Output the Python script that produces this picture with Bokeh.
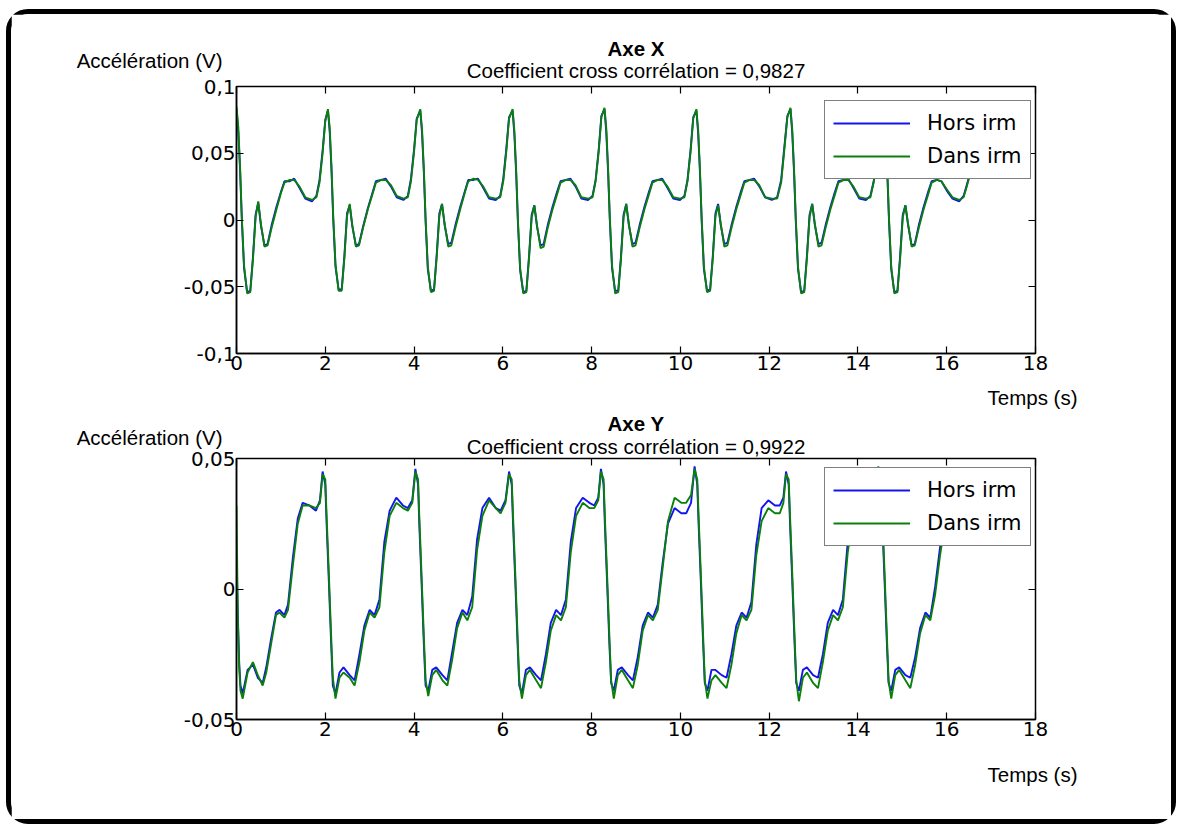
from bokeh.plotting import figure
from bokeh.models import (Range1d, FixedTicker, LinearAxis, Legend, LegendItem,
                          Label, ColumnDataSource)
from bokeh.layouts import column
from bokeh.embed import file_html
from bokeh.resources import INLINE

# ---------------- data: Axe X ----------------
temps_x = [
    0.00, 0.04, 0.08, 0.12, 0.17, 0.24, 0.31, 0.37, 0.43, 0.49, 0.55, 0.63, 0.70, 0.79, 0.90, 1.00, 1.08, 1.20, 1.30, 1.42, 1.55, 1.70, 1.80, 1.87, 1.94, 2.00,
    2.06, 2.10, 2.14, 2.18, 2.23, 2.30, 2.37, 2.43, 2.49, 2.55, 2.61, 2.69, 2.76, 2.85, 2.96, 3.06, 3.14, 3.26, 3.36, 3.48, 3.61, 3.76, 3.86, 3.93, 4.00, 4.06,
    4.14, 4.18, 4.22, 4.26, 4.31, 4.38, 4.45, 4.51, 4.57, 4.63, 4.69, 4.77, 4.84, 4.93, 5.04, 5.14, 5.22, 5.34, 5.44, 5.56, 5.69, 5.84, 5.94, 6.01, 6.08, 6.14,
    6.22, 6.26, 6.30, 6.34, 6.39, 6.46, 6.53, 6.59, 6.65, 6.71, 6.77, 6.85, 6.92, 7.01, 7.12, 7.22, 7.30, 7.42, 7.52, 7.64, 7.77, 7.92, 8.02, 8.09, 8.16, 8.22,
    8.29, 8.33, 8.37, 8.41, 8.46, 8.53, 8.60, 8.66, 8.72, 8.78, 8.84, 8.92, 8.99, 9.08, 9.19, 9.29, 9.37, 9.49, 9.59, 9.71, 9.84, 9.99, 10.09, 10.16, 10.23, 10.29,
    10.36, 10.40, 10.44, 10.48, 10.53, 10.60, 10.67, 10.73, 10.79, 10.85, 10.91, 10.99, 11.06, 11.15, 11.26, 11.36, 11.44, 11.56, 11.66, 11.78, 11.91, 12.06, 12.18, 12.27, 12.34, 12.41,
    12.48, 12.52, 12.56, 12.60, 12.65, 12.72, 12.79, 12.85, 12.91, 12.97, 13.03, 13.11, 13.18, 13.27, 13.38, 13.48, 13.56, 13.68, 13.78, 13.90, 14.03, 14.18, 14.28, 14.36, 14.44, 14.52,
    14.58, 14.62, 14.66, 14.70, 14.75, 14.82, 14.89, 14.95, 15.01, 15.07, 15.13, 15.21, 15.28, 15.37, 15.48, 15.58, 15.66, 15.78, 15.88, 16.00, 16.13, 16.28, 16.38, 16.45, 16.50,
]
hors_x = [
    0.083, 0.066, 0.038, 0.000, -0.036, -0.054, -0.053, -0.028, 0.004, 0.013, -0.004, -0.019, -0.018, -0.004, 0.010, 0.021, 0.029, 0.029, 0.031, 0.024, 0.016, 0.014, 0.018, 0.030, 0.052, 0.075,
    0.082, 0.066, 0.037, 0.000, -0.035, -0.052, -0.052, -0.027, 0.005, 0.011, -0.005, -0.019, -0.018, -0.005, 0.009, 0.020, 0.029, 0.030, 0.031, 0.025, 0.017, 0.015, 0.018, 0.031, 0.053, 0.076,
    0.082, 0.065, 0.036, -0.001, -0.037, -0.053, -0.052, -0.026, 0.005, 0.012, -0.004, -0.018, -0.017, -0.004, 0.010, 0.021, 0.030, 0.030, 0.031, 0.024, 0.016, 0.015, 0.018, 0.031, 0.054, 0.077,
    0.082, 0.064, 0.035, -0.002, -0.038, -0.054, -0.053, -0.027, 0.004, 0.011, -0.005, -0.019, -0.018, -0.004, 0.010, 0.021, 0.029, 0.030, 0.031, 0.025, 0.016, 0.015, 0.018, 0.030, 0.053, 0.078,
    0.083, 0.066, 0.037, 0.000, -0.036, -0.053, -0.053, -0.028, 0.004, 0.012, -0.004, -0.018, -0.017, -0.004, 0.010, 0.021, 0.029, 0.030, 0.031, 0.024, 0.016, 0.015, 0.018, 0.030, 0.053, 0.077,
    0.082, 0.065, 0.036, -0.001, -0.037, -0.053, -0.052, -0.027, 0.005, 0.012, -0.004, -0.018, -0.017, -0.004, 0.010, 0.021, 0.029, 0.030, 0.031, 0.025, 0.017, 0.015, 0.017, 0.030, 0.054, 0.078,
    0.083, 0.065, 0.036, -0.001, -0.037, -0.054, -0.053, -0.027, 0.004, 0.012, -0.004, -0.018, -0.017, -0.004, 0.010, 0.021, 0.029, 0.030, 0.031, 0.024, 0.016, 0.015, 0.018, 0.030, 0.053, 0.078,
    0.083, 0.065, 0.036, -0.001, -0.037, -0.054, -0.053, -0.027, 0.004, 0.011, -0.004, -0.019, -0.018, -0.004, 0.010, 0.021, 0.029, 0.030, 0.029, 0.022, 0.016, 0.014, 0.018, 0.026, 0.032,
]
dans_x = [
    0.085, 0.070, 0.040, 0.002, -0.034, -0.055, -0.054, -0.030, 0.002, 0.014, -0.003, -0.020, -0.019, -0.006, 0.008, 0.020, 0.028, 0.030, 0.030, 0.025, 0.017, 0.015, 0.017, 0.028, 0.050, 0.074,
    0.083, 0.069, 0.040, 0.002, -0.033, -0.053, -0.053, -0.029, 0.003, 0.012, -0.004, -0.020, -0.019, -0.006, 0.008, 0.019, 0.028, 0.030, 0.030, 0.026, 0.018, 0.016, 0.017, 0.029, 0.051, 0.075,
    0.083, 0.068, 0.039, 0.001, -0.035, -0.054, -0.053, -0.028, 0.003, 0.012, -0.003, -0.020, -0.019, -0.006, 0.008, 0.020, 0.029, 0.031, 0.030, 0.025, 0.017, 0.016, 0.017, 0.029, 0.052, 0.076,
    0.083, 0.067, 0.038, 0.000, -0.036, -0.055, -0.054, -0.029, 0.002, 0.011, -0.004, -0.021, -0.020, -0.006, 0.008, 0.019, 0.028, 0.030, 0.030, 0.026, 0.017, 0.016, 0.017, 0.029, 0.051, 0.077,
    0.084, 0.069, 0.040, 0.002, -0.034, -0.055, -0.054, -0.030, 0.002, 0.012, -0.003, -0.020, -0.019, -0.006, 0.008, 0.019, 0.028, 0.030, 0.030, 0.025, 0.017, 0.016, 0.017, 0.029, 0.051, 0.076,
    0.083, 0.068, 0.039, 0.001, -0.035, -0.054, -0.053, -0.029, 0.003, 0.011, -0.003, -0.020, -0.019, -0.006, 0.008, 0.019, 0.028, 0.030, 0.030, 0.026, 0.017, 0.016, 0.016, 0.028, 0.052, 0.077,
    0.084, 0.068, 0.039, 0.001, -0.035, -0.055, -0.054, -0.029, 0.002, 0.012, -0.003, -0.020, -0.019, -0.006, 0.008, 0.019, 0.028, 0.030, 0.030, 0.025, 0.017, 0.016, 0.017, 0.029, 0.051, 0.077,
    0.084, 0.068, 0.039, 0.001, -0.035, -0.055, -0.054, -0.029, 0.002, 0.011, -0.003, -0.020, -0.019, -0.006, 0.008, 0.019, 0.028, 0.030, 0.029, 0.023, 0.017, 0.015, 0.017, 0.025, 0.031,
]

# ---------------- data: Axe Y ----------------
temps_y = [
    0.00, 0.03, 0.06, 0.09, 0.14, 0.25, 0.37, 0.48, 0.59, 0.67, 0.78, 0.89, 0.97, 1.08, 1.16, 1.27, 1.38, 1.49, 1.64, 1.79, 1.88,
    1.94, 2.00, 2.03, 2.08, 2.13, 2.17, 2.23, 2.32, 2.41, 2.55, 2.66, 2.77, 2.88, 3.00, 3.11, 3.22, 3.33, 3.45, 3.60, 3.75, 3.86, 3.96,
    4.03, 4.09, 4.12, 4.17, 4.22, 4.26, 4.32, 4.41, 4.50, 4.64, 4.75, 4.86, 4.97, 5.09, 5.20, 5.31, 5.42, 5.54, 5.69, 5.84, 5.95, 6.06,
    6.14, 6.20, 6.23, 6.28, 6.33, 6.37, 6.43, 6.52, 6.61, 6.75, 6.86, 6.97, 7.08, 7.20, 7.31, 7.42, 7.53, 7.65, 7.80, 7.95, 8.06, 8.15,
    8.21, 8.27, 8.30, 8.35, 8.40, 8.44, 8.50, 8.59, 8.68, 8.82, 8.93, 9.04, 9.15, 9.27, 9.38, 9.49, 9.60, 9.72, 9.87, 10.02, 10.13, 10.24,
    10.32, 10.38, 10.41, 10.46, 10.51, 10.55, 10.61, 10.70, 10.79, 10.93, 11.04, 11.15, 11.26, 11.38, 11.49, 11.60, 11.71, 11.83, 11.98, 12.13, 12.24, 12.32,
    12.38, 12.44, 12.47, 12.52, 12.57, 12.61, 12.67, 12.76, 12.85, 12.99, 13.10, 13.21, 13.32, 13.44, 13.55, 13.66, 13.77, 13.89, 14.04, 14.19, 14.30, 14.40,
    14.46, 14.52, 14.55, 14.60, 14.65, 14.69, 14.75, 14.84, 14.93, 15.07, 15.18, 15.29, 15.40, 15.52, 15.63, 15.74, 15.85, 15.97,
]
hors_y = [
    0.012, -0.010, -0.028, -0.037, -0.040, -0.031, -0.029, -0.034, -0.036, -0.030, -0.019, -0.009, -0.008, -0.010, -0.006, 0.012, 0.027, 0.033, 0.032, 0.030, 0.034,
    0.045, 0.040, 0.025, 0.003, -0.020, -0.037, -0.040, -0.032, -0.030, -0.033, -0.035, -0.025, -0.014, -0.008, -0.010, -0.004, 0.018, 0.030, 0.035, 0.032, 0.031, 0.034,
    0.046, 0.040, 0.024, 0.002, -0.021, -0.037, -0.039, -0.031, -0.030, -0.033, -0.035, -0.024, -0.013, -0.008, -0.010, -0.003, 0.019, 0.031, 0.035, 0.031, 0.030, 0.034,
    0.045, 0.040, 0.025, 0.003, -0.020, -0.037, -0.040, -0.031, -0.030, -0.033, -0.035, -0.025, -0.013, -0.008, -0.010, -0.004, 0.018, 0.031, 0.035, 0.033, 0.032, 0.035,
    0.046, 0.040, 0.024, 0.002, -0.021, -0.036, -0.039, -0.031, -0.030, -0.033, -0.035, -0.026, -0.014, -0.009, -0.011, -0.006, 0.010, 0.025, 0.031, 0.029, 0.029, 0.033,
    0.047, 0.040, 0.025, 0.003, -0.020, -0.036, -0.039, -0.031, -0.031, -0.033, -0.034, -0.025, -0.014, -0.009, -0.011, -0.005, 0.017, 0.031, 0.034, 0.032, 0.032, 0.035,
    0.045, 0.040, 0.025, 0.003, -0.020, -0.036, -0.039, -0.031, -0.030, -0.033, -0.034, -0.025, -0.013, -0.008, -0.010, -0.004, 0.018, 0.030, 0.034, 0.032, 0.031, 0.035,
    0.046, 0.040, 0.025, 0.003, -0.020, -0.036, -0.039, -0.031, -0.030, -0.033, -0.034, -0.026, -0.015, -0.009, -0.011, 0.001, 0.016, 0.028,
]
dans_y = [
    0.032, -0.012, -0.030, -0.039, -0.042, -0.032, -0.028, -0.033, -0.037, -0.032, -0.021, -0.010, -0.009, -0.011, -0.008, 0.009, 0.025, 0.032, 0.032, 0.031, 0.033,
    0.044, 0.042, 0.028, 0.006, -0.017, -0.034, -0.042, -0.034, -0.032, -0.034, -0.037, -0.028, -0.016, -0.009, -0.011, -0.007, 0.014, 0.028, 0.033, 0.031, 0.030, 0.033,
    0.045, 0.042, 0.027, 0.005, -0.018, -0.035, -0.041, -0.033, -0.031, -0.035, -0.037, -0.027, -0.015, -0.009, -0.012, -0.007, 0.015, 0.028, 0.034, 0.031, 0.029, 0.033,
    0.044, 0.042, 0.028, 0.006, -0.017, -0.035, -0.042, -0.033, -0.031, -0.035, -0.038, -0.028, -0.016, -0.010, -0.012, -0.007, 0.014, 0.028, 0.033, 0.031, 0.031, 0.034,
    0.045, 0.042, 0.027, 0.005, -0.018, -0.035, -0.042, -0.033, -0.031, -0.035, -0.038, -0.029, -0.016, -0.010, -0.012, -0.008, 0.008, 0.026, 0.035, 0.033, 0.033, 0.036,
    0.046, 0.042, 0.028, 0.006, -0.017, -0.035, -0.042, -0.035, -0.033, -0.036, -0.038, -0.029, -0.017, -0.010, -0.012, -0.008, 0.013, 0.026, 0.031, 0.029, 0.029, 0.033,
    0.044, 0.042, 0.028, 0.006, -0.017, -0.035, -0.043, -0.034, -0.032, -0.036, -0.038, -0.028, -0.016, -0.010, -0.012, -0.007, 0.014, 0.028, 0.033, 0.031, 0.031, 0.034,
    0.047, 0.042, 0.028, 0.006, -0.017, -0.035, -0.042, -0.033, -0.031, -0.035, -0.038, -0.029, -0.017, -0.010, -0.012, -0.002, 0.013, 0.026,
]

x_ticks = [0, 2, 4, 6, 8, 10, 12, 14, 16, 18]
y_ticks_x = [-0.1, -0.05, 0, 0.05, 0.1]
y_labels_x = ["-0,1", "-0,05", "0", "0,05", "0,1"]
y_ticks_y = [-0.05, 0, 0.05]
y_labels_y = ["-0,05", "0", "0,05"]
series_names = ["Hors irm", "Dans irm"]
titles = ["Axe X", "Axe Y"]
subtitles = ["Coefficient cross corrélation = 0,9827",
             "Coefficient cross corrélation = 0,9922"]
y_title = "Accélération (V)"
x_title = "Temps (s)"

assert len(temps_x) == len(hors_x) == len(dans_x)
assert len(temps_y) == len(hors_y) == len(dans_y)

BLUE = "#1414f0"
GREEN = "#0a800a"
TXT = "Liberation Sans"
NUM = "DejaVu Sans"


def canvas_label(text, x, y, align, bold=False):
    return Label(x=x, y=y, x_units="canvas", y_units="canvas", text=text,
                 text_font=TXT, text_font_size="20.5px",
                 text_font_style="bold" if bold else "normal",
                 text_align=align, text_baseline="middle", text_color="black")


def make_plot(t, h, d, yr, yticks, ylabels, title, subtitle, height,
              top, bottom, title_y, sub_y, ylab_y, xlab_y, leg_y):
    p = figure(width=1160, height=height, output_backend="svg",
               toolbar_location=None, x_range=Range1d(0, 18),
               y_range=Range1d(*yr), min_border_left=225, min_border_right=136,
               min_border_top=top, min_border_bottom=bottom,
               background_fill_color="white", border_fill_color="white")
    p.grid.visible = False
    p.outline_line_color = "black"
    p.outline_line_width = 1.5
    p.title.visible = False

    src = ColumnDataSource(dict(t=t, h=h, d=d))
    r1 = p.line("t", "h", source=src, line_color=BLUE, line_width=1.9)
    r2 = p.line("t", "d", source=src, line_color=GREEN, line_width=1.9)

    overrides = {v: s for v, s in zip(yticks, ylabels)}
    for ax in p.xaxis:
        ax.ticker = FixedTicker(ticks=x_ticks, minor_ticks=[])
    for ax in p.yaxis:
        ax.ticker = FixedTicker(ticks=yticks, minor_ticks=[])
        ax.major_label_overrides = overrides
    for ax in list(p.xaxis) + list(p.yaxis):
        ax.major_tick_in = 7
        ax.major_tick_out = 0
        ax.minor_tick_line_color = None
        ax.axis_line_color = "black"
        ax.axis_line_width = 1.5
        ax.major_tick_line_width = 1.2
        ax.major_label_text_font = NUM
        ax.major_label_text_font_size = "20px"
        ax.major_label_text_color = "black"
    p.xaxis.major_label_standoff = 2
    p.yaxis.major_label_standoff = 1

    # ticks on top and right edges (MATLAB box style)
    top_ax = LinearAxis(ticker=FixedTicker(ticks=x_ticks, minor_ticks=[]),
                        major_label_overrides={v: "" for v in x_ticks},
                        major_label_text_font_size="1px", major_label_standoff=0,
                        major_tick_in=7, major_tick_out=0, minor_tick_line_color=None,
                        axis_line_color="black", major_tick_line_width=1.2)
    right_ax = LinearAxis(ticker=FixedTicker(ticks=yticks, minor_ticks=[]),
                          major_label_overrides={v: "" for v in yticks},
                          major_label_text_font_size="1px", major_label_standoff=0,
                          major_tick_in=7, major_tick_out=0, minor_tick_line_color=None,
                          axis_line_color="black", major_tick_line_width=1.2)
    p.add_layout(top_ax, "above")
    p.add_layout(right_ax, "right")

    # texts (canvas coordinates, placed in the side panels)
    p.add_layout(canvas_label(subtitle, 624.5, sub_y, "center"), "above")
    p.add_layout(canvas_label(title, 624.5, title_y, "center", bold=True), "above")
    p.add_layout(canvas_label(y_title, 211, ylab_y, "right"), "left")
    p.add_layout(canvas_label(x_title, 1066, xlab_y, "right"), "right")

    legend = Legend(items=[LegendItem(label=series_names[0], renderers=[r1]),
                           LegendItem(label=series_names[1], renderers=[r2])],
                    location=(588, leg_y), orientation="vertical",
                    label_text_font=NUM, label_text_font_size="21px",
                    label_text_color="black", glyph_width=77, glyph_height=28,
                    label_height=28, label_standoff=17, padding=8, spacing=5,
                    margin=0, border_line_color="black", border_line_width=1.5,
                    background_fill_color="white", background_fill_alpha=1.0)
    p.add_layout(legend, "center")
    return p


p1 = make_plot(temps_x, hors_x, dans_x, (-0.1, 0.1), y_ticks_x, y_labels_x,
               titles[0], subtitles[0], 398, 72, 59,
               title_y=33.5, sub_y=56, ylab_y=46, xlab_y=383, leg_y=174)
p2 = make_plot(temps_y, hors_y, dans_y, (-0.05, 0.05), y_ticks_y, y_labels_y,
               titles[1], subtitles[1], 407, 44, 100,
               title_y=11, sub_y=34, ylab_y=25, xlab_y=362, leg_y=173)

layout = column(p1, p2, margin=(9, 0, 0, 6),
                styles={"border": "5px solid black",
                        "border-radius": "22px",
                        "background-color": "white"})

open("out.html", "w").write(file_html(layout, INLINE))
